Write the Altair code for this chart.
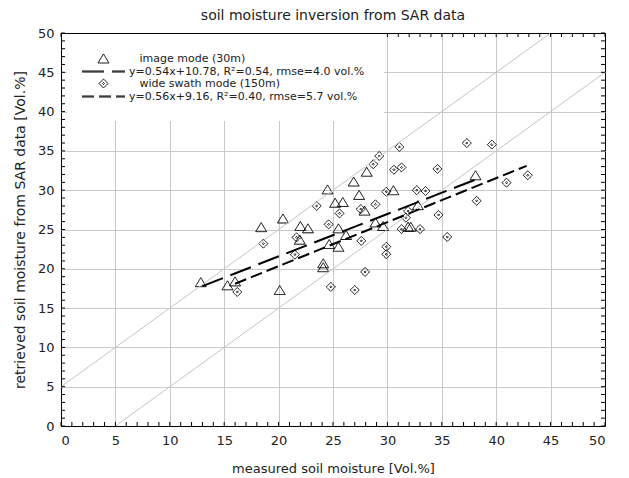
import altair as alt
import pandas as pd

TITLE = "soil moisture inversion from SAR data"
X_TITLE = "measured soil moisture [Vol.%]"
Y_TITLE = "retrieved soil moisture from SAR data [Vol.%]"
AXIS_VALUES = [0, 5, 10, 15, 20, 25, 30, 35, 40, 45, 50]
TICK_VALUES = list(range(0, 51))

INDENT = "\u200b\u00a0\u00a0\u00a0"
LEGEND_LABELS = [
    INDENT + "image mode (30m)",
    "y=0.54x+10.78, R²=0.54, rmse=4.0 vol.%",
    INDENT + "wide swath mode (150m)",
    "y=0.56x+9.16, R²=0.40, rmse=5.7 vol.%",
]

# image mode (30m) – triangles
img_x = [12.85, 15.3, 16.0, 18.4, 20.1, 20.4, 22.0, 22.7, 21.95, 24.1, 24.1, 24.5, 24.65, 25.5, 25.2,
         25.9, 25.5, 26.2, 26.9, 27.4, 27.9, 28.1, 28.9, 29.6, 30.55, 31.9, 32.15, 32.8, 38.1]
img_y = [18.3, 17.9, 18.4, 25.3, 17.3, 26.4, 25.45, 25.15, 23.7, 20.7, 20.2, 30.1, 23.15, 22.8, 28.4,
         28.5, 25.15, 24.3, 31.1, 29.4, 27.4, 32.35, 25.9, 25.45, 30.0, 25.35, 25.35, 28.1, 31.9]

# wide swath mode (150m) – diamonds
wide_x = [16.2, 18.6, 21.5, 21.65, 23.5, 24.6, 24.8, 25.6, 27.0, 27.6, 27.55, 27.95, 28.7, 28.9, 29.25,
          29.9, 29.9, 29.9, 30.6, 31.1, 31.3, 31.3, 31.7, 31.9, 32.7, 33.0, 33.5, 34.6, 34.7, 35.5,
          37.3, 38.2, 39.6, 40.95, 42.9]
wide_y = [17.05, 23.2, 21.8, 24.0, 28.0, 25.65, 17.7, 27.05, 17.3, 23.55, 27.6, 19.6, 33.3, 28.2, 34.35,
          29.8, 22.8, 21.85, 32.6, 35.5, 32.9, 25.05, 26.5, 27.35, 30.0, 25.05, 29.9, 32.7, 26.85, 24.05,
          36.0, 28.65, 35.8, 30.95, 31.9]

# regression lines (end points)
img_fit_x = [13.0, 38.2]
img_fit_y = [17.8, 31.4]
wide_fit_x = [16.0, 42.8]
wide_fit_y = [18.1, 33.1]

# +/- 5 vol.% reference lines
diag_hi_x = [0, 45]
diag_hi_y = [5, 50]
diag_lo_x = [5, 50]
diag_lo_y = [0, 45]

# ---------------------------------------------------------------------------
FONT = "DejaVu Sans"
TRI = "M0,-0.9L1.1,0.9L-1.1,0.9Z"
DIA = "M0,-0.9L0.9,0L0,0.9L-0.9,0Z M0,-0.2L0.2,0L0,0.2L-0.2,0Z"
LINE = "M-4.3,-0.1L4.3,-0.1M-4.3,0.1L4.3,0.1"
LONG_DASH = [22, 8]
SHORT_DASH = [12, 5]
TICK_LEN = 0.8

xs = alt.Scale(domain=[0, 50], nice=False, zero=False)
ys = alt.Scale(domain=[0, 50], nice=False, zero=False)

frame_cond = "datum.value == 0 || datum.value == 50"
x_axis = alt.Axis(values=AXIS_VALUES, ticks=False, domain=False, grid=True,
                  gridColor={"condition": {"test": frame_cond, "value": "black"}, "value": "#c8c8c8"},
                  labelFont=FONT, labelFontSize=13, labelColor="#222", labelPadding=8,
                  title=X_TITLE, titleFont=FONT, titleFontSize=13, titleFontWeight="normal",
                  titleColor="#222", titlePadding=15)
y_axis = alt.Axis(values=AXIS_VALUES, ticks=False, domain=False, grid=True,
                  gridColor={"condition": {"test": frame_cond, "value": "black"}, "value": "#c8c8c8"},
                  labelFont=FONT, labelFontSize=13, labelColor="#222", labelPadding=7,
                  title=Y_TITLE, titleFont=FONT, titleFontSize=14, titleFontWeight="normal",
                  titleColor="#222", titlePadding=10)

pts = pd.concat([
    pd.DataFrame({"x": img_x, "y": img_y, "series": LEGEND_LABELS[0]}),
    pd.DataFrame({"x": wide_x, "y": wide_y, "series": LEGEND_LABELS[2]}),
])

legend = alt.Legend(
    title=None, orient="none", legendX=6, legendY=1, fillColor="white", padding=19,
    symbolOffset=12, labelOffset=20, rowPadding=0, labelFont=FONT, labelFontSize=11,
    labelColor="#222", symbolSize=100, symbolStrokeColor="black", symbolFillColor="transparent",
    symbolStrokeWidth=1, labelLimit=400,
)

points = alt.Chart(pts).mark_point(filled=False, size=100, color="black", opacity=1,
                                   strokeWidth=1, clip=False).encode(
    x=alt.X("x:Q", scale=xs, axis=x_axis),
    y=alt.Y("y:Q", scale=ys, axis=y_axis),
    shape=alt.Shape("series:N", scale=alt.Scale(domain=LEGEND_LABELS, range=[TRI, LINE, DIA, LINE]),
                    legend=legend),
    strokeDash=alt.StrokeDash("series:N",
                              scale=alt.Scale(domain=LEGEND_LABELS,
                                              range=[[1, 0], LONG_DASH, [1, 0], SHORT_DASH]),
                              legend=legend),
)


def line_layer(xv, yv, color, width, dash=None):
    df = pd.DataFrame({"x": xv, "y": yv})
    kw = dict(color=color, strokeWidth=width)
    if dash is not None:
        kw["strokeDash"] = dash
    return alt.Chart(df).mark_line(**kw).encode(
        x=alt.X("x:Q", scale=xs, axis=x_axis),
        y=alt.Y("y:Q", scale=ys, axis=y_axis),
    )


diag_hi = line_layer(diag_hi_x, diag_hi_y, "#c4c4c4", 1)
diag_lo = line_layer(diag_lo_x, diag_lo_y, "#c4c4c4", 1)
fit_img = line_layer(img_fit_x, img_fit_y, "black", 2, LONG_DASH)
fit_wide = line_layer(wide_fit_x, wide_fit_y, "black", 2, SHORT_DASH)


def tick_layer(values, side, length):
    if side in ("bottom", "top"):
        df = pd.DataFrame({"x": values, "y": 0 if side == "bottom" else 50})
        path = f"M0,0L0,{-length if side == 'bottom' else length}"
    else:
        df = pd.DataFrame({"x": 0 if side == "left" else 50, "y": values})
        path = f"M0,0L{length if side == 'left' else -length},0"
    return alt.Chart(df).mark_point(shape=path, size=100, filled=False, color="black",
                                    strokeWidth=1, opacity=1, clip=False).encode(
        x=alt.X("x:Q", scale=xs, axis=x_axis),
        y=alt.Y("y:Q", scale=ys, axis=y_axis),
    )


ticks = [tick_layer(TICK_VALUES, side, TICK_LEN) for side in ("bottom", "top", "left", "right")]

chart = alt.layer(points, diag_hi, diag_lo, fit_img, fit_wide, *ticks).properties(
    width=544, height=393,
    title=alt.Title(TITLE, font=FONT, fontSize=14, fontWeight="normal", color="#222", offset=4),
    padding={"left": 5, "top": 1, "right": 5, "bottom": 0},
).configure_view(stroke=None)

chart.save("out.html", embed_options={"renderer": "svg", "actions": False})
